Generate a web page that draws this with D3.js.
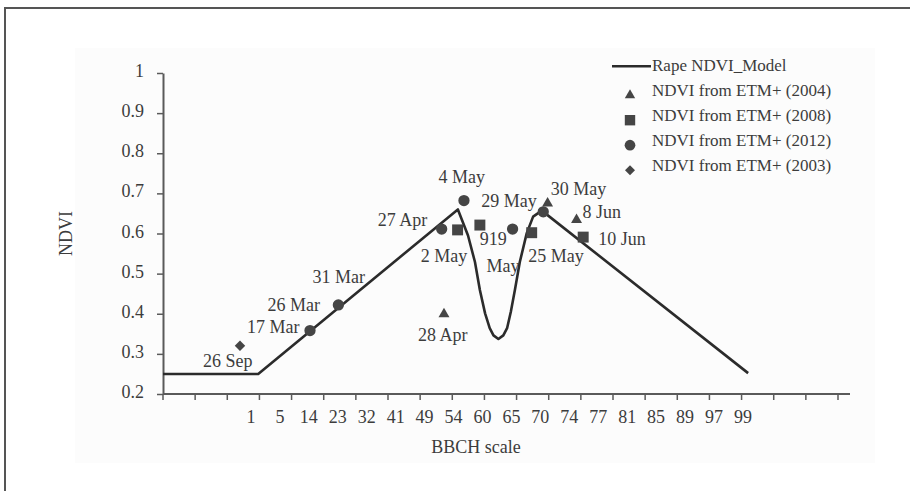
<!DOCTYPE html>
<html><head><meta charset="utf-8">
<script src="https://cdn.jsdelivr.net/npm/d3@7"></script>
<style>
html,body{margin:0;padding:0;background:#fff;}
svg{display:block;font-family:"Liberation Serif","Times New Roman",serif;}
</style>
</head><body>
<svg id="chart" width="910" height="491"></svg>
<script>
// ---------- DATA ----------
const bbchLabels = ["1","5","14","23","32","41","49","54","60","65","70","74","77","81","85","89","97","99"];
const yTickValues = [0.2,0.3,0.4,0.5,0.6,0.7,0.8,0.9,1];

// Rape NDVI model (position on BBCH category axis, NDVI)
const modelSlot = [-3.04, 0.25, 7.15, 7.5, 7.74, 7.91, 8.09, 8.25, 8.38, 8.55, 8.72, 8.85, 8.98, 9.12, 9.29, 9.53, 9.75, 10.05, 17.18];
const modelNdvi = [0.25, 0.25, 0.66, 0.595, 0.529, 0.459, 0.401, 0.364, 0.346, 0.337, 0.346, 0.364, 0.405, 0.459, 0.529, 0.601, 0.642, 0.657, 0.252];

const etm2004Slot = [6.67, 10.25, 11.25];
const etm2004Ndvi = [0.399, 0.675, 0.634];
const etm2008Slot = [7.14, 7.91, 9.70, 11.48];
const etm2008Ndvi = [0.609, 0.621, 0.602, 0.591];
const etm2012Slot = [2.04, 3.02, 6.59, 7.36, 9.04, 10.10];
const etm2012Ndvi = [0.358, 0.422, 0.611, 0.682, 0.611, 0.654];
const etm2003Slot = [-0.38];
const etm2003Ndvi = [0.32];

const legendLabels = ["Rape NDVI_Model","NDVI from ETM+ (2004)","NDVI from ETM+ (2008)","NDVI from ETM+ (2012)","NDVI from ETM+ (2003)"];

const annotationTexts = ["26 Sep","17 Mar","26 Mar","31 Mar","27 Apr","4 May","2 May","28 Apr","919","May","29 May","25 May","30 May","8 Jun","10 Jun"];
const annotationSlot  = [-0.805, 0.77, 1.475, 3.03, 5.235, 7.28, 6.67, 6.63, 8.37, 8.71, 8.915, 10.54, 11.32, 12.12, 12.82];
const annotationNdvi  = [0.267, 0.351, 0.407, 0.476, 0.619, 0.725, 0.530, 0.331, 0.571, 0.505, 0.665, 0.530, 0.696, 0.638, 0.571];

// ---------- LAYOUT ----------
const svg = d3.select("#chart");
const W = 910, H = 491;
const plotLeft = 163, plotRight = 850, plotTop = 73, plotBottom = 394;
const inkAxis = "#5a5a5a", ink = "#2b2b2b", txt = "#3c3c3c", markFill = "#454545";

svg.append("rect").attr("width", W).attr("height", H).attr("fill", "#fff");
svg.append("rect").attr("x", 75).attr("y", 48).attr("width", 800).attr("height", 415).attr("fill", "#fcfcfc");
// outer frame (clipped by the window)
svg.append("rect").attr("x", 5).attr("y", 8).attr("width", 1000).attr("height", 1000)
  .attr("fill", "none").attr("stroke", "#555").attr("stroke-width", 2);

const x = d3.scaleLinear().domain([-3.04, 20.7]).range([plotLeft, plotRight]);
const xTick = d3.scaleLinear().domain([0, 21]).range([plotLeft, 838]);
const y = d3.scaleLinear().domain([0.2, 1]).range([plotBottom, plotTop]);

// Y axis
const yAxis = svg.append("g").attr("transform", `translate(${plotLeft},0)`)
  .call(d3.axisLeft(y).tickValues(yTickValues).tickSize(6).tickSizeOuter(0)
    .tickFormat(d => d === 1 ? "1" : d3.format(".1f")(d)));
yAxis.select(".domain").attr("stroke", inkAxis).attr("stroke-width", 2);
yAxis.selectAll(".tick line").attr("stroke", inkAxis).attr("stroke-width", 1.5);
yAxis.selectAll(".tick text").attr("fill", txt).attr("font-size", 18)
  .attr("font-family", "Liberation Serif").attr("x", -19).attr("dy", "0.2em");

// X axis: line, ticks, category labels
const xg = svg.append("g");
xg.append("line").attr("x1", plotLeft).attr("x2", plotRight).attr("y1", plotBottom).attr("y2", plotBottom)
  .attr("stroke", inkAxis).attr("stroke-width", 2);
xg.selectAll("line.tk").data(d3.range(22)).join("line").attr("class", "tk")
  .attr("x1", d => xTick(d)).attr("x2", d => xTick(d))
  .attr("y1", plotBottom).attr("y2", plotBottom + 6)
  .attr("stroke", inkAxis).attr("stroke-width", 1.5);
xg.selectAll("text").data(bbchLabels).join("text")
  .attr("x", (d, i) => x(i)).attr("y", plotBottom + 29)
  .attr("text-anchor", "middle").attr("font-size", 18).attr("fill", txt)
  .text(d => d);

// Axis titles
svg.append("text").attr("x", 476).attr("y", 453)
  .attr("text-anchor", "middle").attr("font-size", 18).attr("fill", txt).text("BBCH scale");
svg.append("text").attr("transform", `translate(72,${(plotTop + plotBottom) / 2})rotate(-90)`)
  .attr("text-anchor", "middle").attr("font-size", 18).attr("fill", txt).text("NDVI");

// Model line
const modelData = modelSlot.map((s, i) => [s, modelNdvi[i]]);
svg.append("path").datum(modelData)
  .attr("d", d3.line().x(d => x(d[0])).y(d => y(d[1])))
  .attr("fill", "none").attr("stroke", ink).attr("stroke-width", 2.6).attr("stroke-linejoin", "round");

// Markers
const diamond = {draw(ctx, size) { const r = Math.sqrt(size / 2); ctx.moveTo(0, -r); ctx.lineTo(r, 0); ctx.lineTo(0, r); ctx.lineTo(-r, 0); ctx.closePath(); }};
const series = [
  {slot: etm2004Slot, ndvi: etm2004Ndvi, sym: d3.symbolTriangle, size: 52},
  {slot: etm2008Slot, ndvi: etm2008Ndvi, sym: d3.symbolSquare, size: 120},
  {slot: etm2012Slot, ndvi: etm2012Ndvi, sym: d3.symbolCircle, size: 100},
  {slot: etm2003Slot, ndvi: etm2003Ndvi, sym: diamond, size: 55}
];
series.forEach(sr => {
  svg.append("g").selectAll("path").data(sr.slot.map((s, i) => [s, sr.ndvi[i]])).join("path")
    .attr("transform", d => `translate(${x(d[0])},${y(d[1])})`)
    .attr("d", d3.symbol(sr.sym, sr.size)).attr("fill", markFill);
});

// Annotations
svg.append("g").selectAll("text").data(annotationTexts).join("text")
  .attr("x", (d, i) => x(annotationSlot[i])).attr("y", (d, i) => y(annotationNdvi[i]))
  .attr("text-anchor", "middle").attr("font-size", 18).attr("fill", txt)
  .text(d => d);

// Legend
const lg = svg.append("g");
const legX = 612, legY0 = 70.7, legStep = 25;
lg.append("line").attr("x1", legX).attr("x2", legX + 39).attr("y1", legY0 - 4.5).attr("y2", legY0 - 4.5)
  .attr("stroke", ink).attr("stroke-width", 2.6);
series.forEach((sr, i) => {
  lg.append("path").attr("transform", `translate(${legX + 18},${legY0 + legStep * (i + 1) - 0.5})`)
    .attr("d", d3.symbol(sr.sym, sr.size * 0.9)).attr("fill", markFill);
});
lg.selectAll("text").data(legendLabels).join("text")
  .attr("x", legX + 40).attr("y", (d, i) => legY0 + legStep * i)
  .attr("font-size", 17).attr("fill", txt).text(d => d);
</script>
</body></html>
